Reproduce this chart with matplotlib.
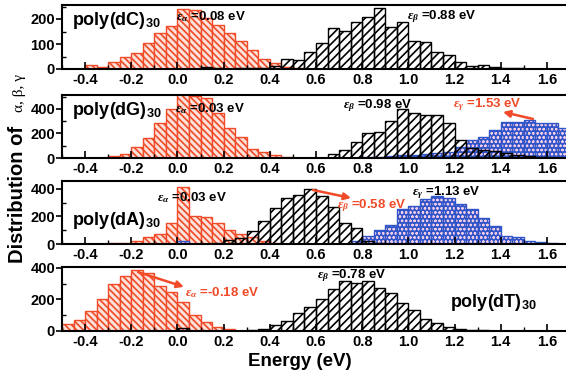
import numpy as np
import matplotlib
matplotlib.use("Agg")
import matplotlib.pyplot as plt
from matplotlib.ticker import MultipleLocator

plt.rcParams["font.family"] = ["Liberation Sans", "DejaVu Sans"]
plt.rcParams["font.weight"] = "bold"
plt.rcParams["mathtext.fontset"] = "custom"
plt.rcParams["mathtext.rm"] = "Liberation Sans:bold"
plt.rcParams["mathtext.bf"] = "Liberation Sans:bold"
plt.rcParams["mathtext.it"] = "Liberation Serif:italic"
plt.rcParams["hatch.linewidth"] = 1.2

RED = "#f04a28"
BLUE = "#2f55c8"
BIN = 0.05

# ---- data: counts per 0.05 eV bin, starting at the given energy ----
dC_alpha_start = -0.5
dC_alpha = [2, 2, 16, 10, 29, 49, 65, 103, 143, 172, 240, 236, 203, 176,
            145, 113, 76, 39, 23, 10, 3]
dC_beta_start = 0.0
dC_beta = [2, 2, 8, 3, 2, 3, 5, 5, 12, 40, 38, 69, 103, 163, 152, 187, 209,
           243, 167, 189, 113, 109, 69, 56, 29, 13, 16, 9, 3, 3, 2, 1, 1]

dG_alpha_start = -0.3
dG_alpha = [13, 35, 89, 167, 282, 403, 520, 505, 490, 368, 247, 175, 73,
            48, 27, 10]
dG_beta_start = 0.5
dG_beta = [2, 3, 2, 35, 67, 134, 202, 215, 301, 398, 368, 349, 347, 282,
           148, 81, 67, 54, 40, 27, 15, 8, 4, 2]
dG_gamma_start = 0.8
dG_gamma = [5, 10, 20, 27, 27, 35, 40, 50, 90, 148, 175, 228, 296, 296,
            309, 282, 282, 242]

dA_alpha_start = -0.5
dA_alpha = [3, 3, 3, 3, 5, 8, 24, 49, 73, 154, 415, 202, 195, 154, 105, 73,
            49, 20, 5, 3]
dA_beta_start = 0.15
dA_beta = [5, 32, 41, 93, 165, 263, 332, 356, 398, 349, 271, 154, 117, 20,
           5, 2]
dA_gamma_start = 0.0
dA_gamma = [25, 0, 0, 0, 0, 0, 0, 0, 0, 0, 0, 0, 0, 0, 0, 20, 56, 105, 141,
            251, 276, 324, 349, 332, 288, 251, 190, 129, 56, 49, 20, 12, 7, 3]

dT_alpha_start = -0.5
dT_alpha = [47, 68, 128, 200, 298, 345, 383, 370, 285, 249, 185, 100, 57,
            26, 15, 3]
dT_beta_start = 0.0
dT_beta = [21, 2, 2, 2, 2, 2, 4, 15, 40, 64, 115, 153, 200, 264, 319, 306,
           317, 270, 243, 179, 136, 79, 51, 26, 15, 9, 4, 2, 1]

ylims = [256, 514, 458, 405]
ymajor = [100, 200, 200, 200]


def edges(start, counts):
    return start + BIN * np.arange(len(counts))


def draw_alpha(ax, start, counts):
    ax.bar(edges(start, counts), counts, width=BIN, align="edge",
           facecolor="#fde2da", edgecolor=RED, hatch="\\\\\\\\\\",
           linewidth=1.0)


def draw_beta(ax, start, counts):
    ax.bar(edges(start, counts), counts, width=BIN, align="edge",
           facecolor="none", edgecolor="black", hatch="////", linewidth=1.0)


def draw_gamma(ax, start, counts):
    x = edges(start, counts)
    with plt.rc_context({"hatch.linewidth": 0.6}):
        ax.bar(x, counts, width=BIN, align="edge", facecolor=BLUE,
               edgecolor="#f2cbe6", hatch="oooo", linewidth=0)
    ax.bar(x, counts, width=BIN, align="edge", fill=False,
           edgecolor=BLUE, linewidth=1.0)


fig = plt.figure(figsize=(5.66, 3.74), dpi=100)
W, H = 566.0, 374.0
left = 62 / W
width = 508 / W
boxes = [(5, 69), (95, 158), (181, 244), (267, 331)]
axes = []
for top, bot in boxes:
    ax = fig.add_axes([left, 1 - bot / H, width, (bot - top) / H])
    axes.append(ax)

series = [
    (dC_alpha_start, dC_alpha, dC_beta_start, dC_beta, None, None),
    (dG_alpha_start, dG_alpha, dG_beta_start, dG_beta, dG_gamma_start, dG_gamma),
    (dA_alpha_start, dA_alpha, dA_beta_start, dA_beta, dA_gamma_start, dA_gamma),
    (dT_alpha_start, dT_alpha, dT_beta_start, dT_beta, None, None),
]

xt = np.round(np.arange(-0.4, 1.61, 0.2), 1)
for i, ax in enumerate(axes):
    a0, a, b0, b, g0, g = series[i]
    draw_alpha(ax, a0, a)
    if g is not None:
        draw_gamma(ax, g0, g)
    draw_beta(ax, b0, b)

    ax.set_xlim(-0.5, 1.7)
    ax.set_ylim(0, ylims[i])
    ax.xaxis.set_minor_locator(MultipleLocator(0.1))
    ax.yaxis.set_major_locator(MultipleLocator(ymajor[i]))
    ax.yaxis.set_minor_locator(MultipleLocator(ymajor[i] / 2))
    ax.set_xticks(xt)
    ax.set_xticklabels(["%.1f" % v for v in xt])
    ax.tick_params(axis="x", which="major", direction="in", length=5,
                   width=1.2, labelsize=10.5, pad=3)
    ax.tick_params(axis="x", which="minor", direction="in", length=3, width=1)
    ax.tick_params(axis="y", which="major", direction="out", length=4,
                   width=1.2, labelsize=10.5, pad=1)
    ax.tick_params(axis="y", which="minor", direction="in", length=3, width=1)
    for s in ax.spines.values():
        s.set_linewidth(1.5)

eps_kw = dict(fontsize=9.5, fontweight="bold")
arrow_kw = dict(arrowstyle="-|>", color=RED, lw=1.8, mutation_scale=10,
                shrinkA=0, shrinkB=0)

ax = axes[0]
ax.text(0.02, 0.69, r"poly(dC)$_{\mathrm{30}}$", transform=ax.transAxes,
        fontsize=13, fontweight="bold")
ax.text(0.224, 0.77, r"$\varepsilon_\alpha$ =0.08 eV", transform=ax.transAxes,
        **eps_kw)
ax.text(0.679, 0.78, r"$\varepsilon_\beta$ =0.88 eV", transform=ax.transAxes,
        **eps_kw)

ax = axes[1]
ax.text(0.02, 0.68, r"poly(dG)$_{\mathrm{30}}$", transform=ax.transAxes,
        fontsize=13, fontweight="bold")
ax.text(0.222, 0.73, r"$\varepsilon_\alpha$ =0.03 eV", transform=ax.transAxes,
        **eps_kw)
ax.text(0.553, 0.79, r"$\varepsilon_\beta$ =0.98 eV", transform=ax.transAxes,
        **eps_kw)
ax.text(0.77, 0.81, r"$\varepsilon_\gamma$ =1.53 eV", transform=ax.transAxes,
        color=RED, **eps_kw)
ax.annotate("", xy=(0.868, 0.73), xytext=(0.927, 0.62),
            xycoords="axes fraction", textcoords="axes fraction",
            arrowprops=arrow_kw)

ax = axes[2]
ax.text(0.02, 0.30, r"poly(dA)$_{\mathrm{30}}$", transform=ax.transAxes,
        fontsize=13, fontweight="bold")
ax.text(0.187, 0.68, r"$\varepsilon_\alpha$ =0.03 eV", transform=ax.transAxes,
        **eps_kw)
ax.text(0.541, 0.57, r"$\varepsilon_\beta$ =0.58 eV", transform=ax.transAxes,
        color=RED, **eps_kw)
ax.text(0.689, 0.78, r"$\varepsilon_\gamma$ =1.13 eV", transform=ax.transAxes,
        **eps_kw)
ax.annotate("", xy=(0.569, 0.73), xytext=(0.494, 0.857),
            xycoords="axes fraction", textcoords="axes fraction",
            arrowprops=arrow_kw)

ax = axes[3]
ax.text(0.764, 0.375, r"poly(dT)$_{\mathrm{30}}$", transform=ax.transAxes,
        fontsize=13, fontweight="bold")
ax.text(0.502, 0.83, r"$\varepsilon_\beta$ =0.78 eV", transform=ax.transAxes,
        **eps_kw)
ax.text(0.242, 0.55, r"$\varepsilon_\alpha$ =-0.18 eV", transform=ax.transAxes,
        color=RED, **eps_kw)
ax.annotate("", xy=(0.24, 0.69), xytext=(0.15, 0.92),
            xycoords="axes fraction", textcoords="axes fraction",
            arrowprops=arrow_kw)

fig.text(300 / W, 1 - 362 / H, "Energy (eV)", ha="center", va="center",
         fontsize=13.5, fontweight="bold")
fig.text(23 / W, 1 - 263 / H, "Distribution of ", ha="left", va="baseline",
         rotation=90, rotation_mode="anchor", fontsize=14.5, fontweight="bold")
fig.text(23 / W, 1 - 112 / H, "α, β, γ", ha="left", va="baseline",
         rotation=90, rotation_mode="anchor", fontsize=11,
         fontweight="normal", family=["Liberation Serif", "DejaVu Serif"])

fig.savefig("out.png", dpi=100)
